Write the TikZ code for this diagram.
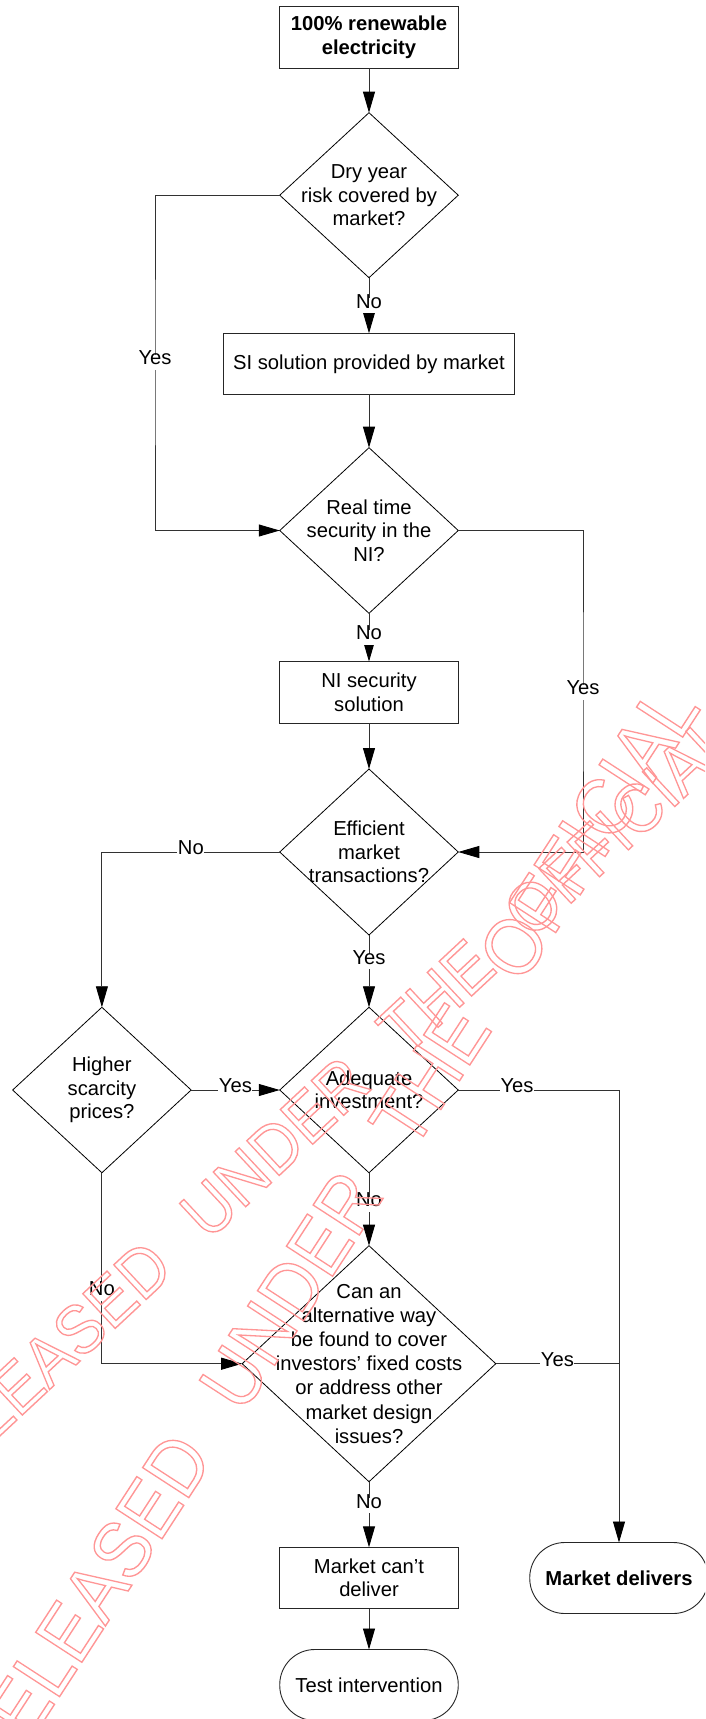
\documentclass[tikz,border=0pt]{standalone}
\usepackage{fontspec}
\setmainfont{Liberation Sans}
\usetikzlibrary{arrows.meta,shapes.geometric}
\definecolor{wmred}{RGB}{255,150,150}
\definecolor{linegray}{RGB}{50,50,50}
\tikzset{
  basefont/.style={font=\fontsize{20.2}{23.3}\selectfont},
  box/.style={basefont, draw=black!85, line width=0.9pt, rectangle, inner sep=0pt, outer sep=0pt,
    align=center, minimum width=178.5pt, minimum height=61.4pt},
  dia/.style={draw=black, line width=0.8pt, diamond, inner sep=0pt, outer sep=0pt,
    minimum width=178.5pt, minimum height=165.5pt},
  dtxt/.style={basefont, align=center, inner sep=0pt},
  term/.style={basefont, draw=black!85, line width=0.9pt, rectangle, rounded corners=35pt,
    inner sep=0pt, outer sep=0pt, minimum width=178.5pt, minimum height=71pt, align=center},
  conn/.style={draw=linegray, line width=0.9pt},
  arr/.style={conn, -{Triangle[length=21pt,width=12pt,color=black]}},
  lbl/.style={basefont, fill=white, inner xsep=0.5pt, inner ysep=2.5pt, text height=0.75em, text depth=0.25em},
  wm/.style={inner sep=0pt, outer sep=0pt, anchor=west, text=wmred}
}
\newcommand{\outlineon}{\special{pdf:literal direct 1 Tr 1.4 w}}
\newcommand{\outlineoff}{\special{pdf:literal direct 0 Tr}}
\begin{document}
\begin{tikzpicture}[x=1pt,y=-1pt]
\useasboundingbox (0,0) rectangle (705,1719);
\clip (0,0) rectangle (705,1719);
\fill[white] (0,0) rectangle (705,1719);

% nodes
\node[box, minimum width=179pt, minimum height=61.6pt, font=\bfseries\fontsize{20.2}{24}\selectfont] (start) at (369,37.5) {100\% renewable\\electricity};
\node[dia, minimum height=165pt, label={[dtxt]center:{Dry year\\risk covered by\\market?}}] (d1) at (369,195.2) {};
\node[box, minimum width=291pt, minimum height=61pt] (si) at (369,363.8) {SI solution provided by market};
\node[dia, minimum height=165.6pt, label={[dtxt]center:{Real time\\security in the\\NI?}}] (d2) at (369,530.5) {};
\node[box] (ni) at (369,692.3) {NI security\\solution};
\node[dia, minimum height=166pt, label={[dtxt]center:{Efficient\\market\\transactions?}}] (d3) at (369,852) {};
\node[dia, label={[dtxt]center:{Higher\\scarcity\\prices?}}] (d4) at (101.9,1090) {};
\node[dia, label={[dtxt]center:{Adequate\\investment?}}] (d5) at (369,1090) {};
\node[dia, minimum width=253.6pt, minimum height=236pt,
  label={[dtxt, font=\fontsize{20.2}{24.2}\selectfont]center:{Can an\\alternative way\\be found to cover\\investors’ fixed costs\\or address other\\market design\\issues?}}] (d6) at (369,1363.7) {};
\node[box] (mcd) at (369,1578) {Market can’t\\deliver};
\node[term] (ti) at (369,1685) {Test intervention};
\node[term, font=\bfseries\fontsize{20.2}{23.3}\selectfont] (md) at (619,1578) {Market delivers};

\coordinate (yl) at (155,362);
\coordinate (yr) at (583,692.3);

% connectors
\draw[arr] (start.south) -- (d1.north);
\draw[arr] (d1.south) -- node[lbl]{No} (si.north);
\draw[arr] (si.south) -- (d2.north);
\draw[arr] (d2.south) -- node[lbl]{No} (ni.north);
\draw[arr] (ni.south) -- (d3.north);
\draw[arr] (d3.south) -- node[lbl,pos=0.37]{Yes} (d5.north);
\draw[arr] (d5.south) -- node[lbl,pos=0.43]{No} (d6.north);
\draw[arr] (d6.south) -- node[lbl,pos=0.37]{No} (mcd.north);
\draw[arr] (mcd.south) -- (ti.north);
\draw[arr] (d1.west) -| (yl) node[lbl]{Yes} |- (d2.west);
\draw[arr] (d2.east) -| (yr) node[lbl]{Yes} |- (d3.east);
\draw[arr] (d3.west) -- node[lbl]{No} (d3.west -| d4.north) -- (d4.north);
\draw[arr] (d4.east) -- node[lbl]{Yes} (d5.west);
\draw[arr] (d5.east) -- node[lbl,pos=0.366]{Yes} (d5.east -| md.north) -- (md.north);
\draw[conn] (d6.east) -- node[lbl]{Yes} (d6.east -| md.north);
\draw[arr] (d4.south) -- node[lbl,pos=0.63]{No} (d4.south |- d6.west) -- (d6.west);

% watermark stamps
\node[wm, rotate=43, xscale=0.92, font=\fontsize{69}{75}\selectfont] (wmA) at (-88,1485.4)
  {\outlineon RELEASED\hspace{0.7em}UNDER\hspace{0.7em}THE\hspace{0.7em}OFFICIAL\outlineoff};
\node[wm, rotate=57, xscale=0.92, font=\fontsize{80}{86}\selectfont] (wmB) at (-22.5,1772.4)
  {\outlineon RELEASED\hspace{0.7em}UNDER\hspace{0.7em}THE\hspace{0.7em}OFFICIAL\outlineoff};
\end{tikzpicture}
\end{document}
